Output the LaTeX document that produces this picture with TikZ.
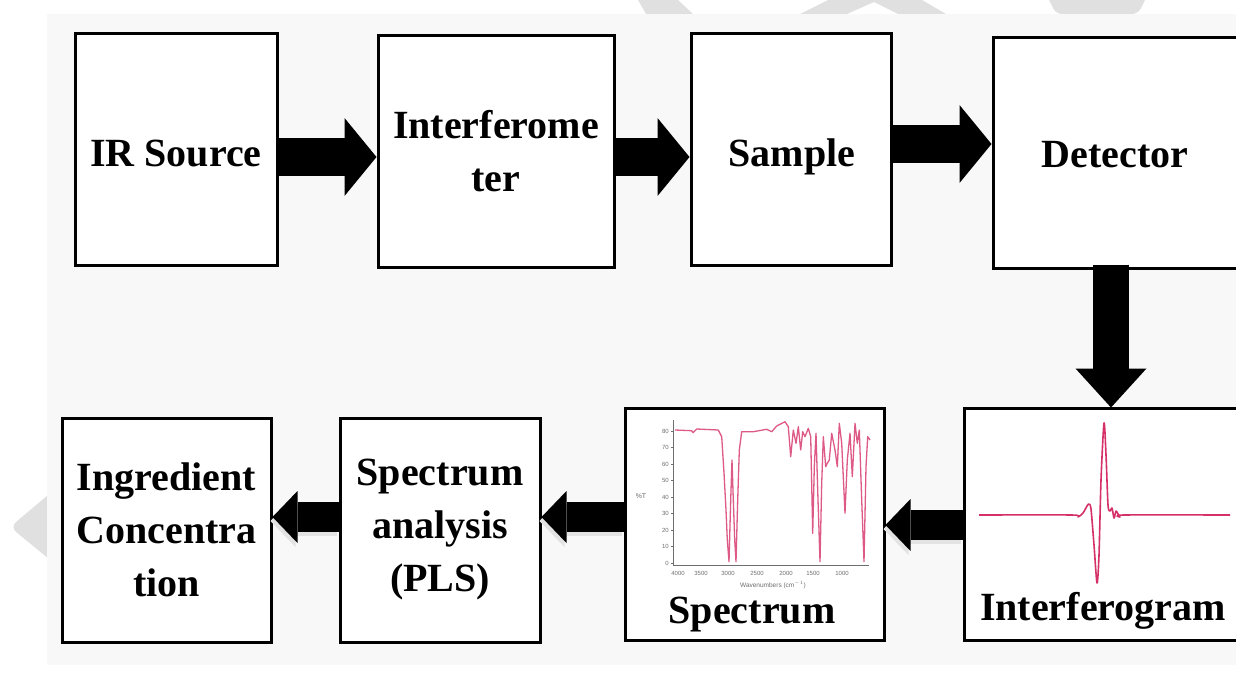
\documentclass[tikz,border=0pt]{standalone}
\usepackage{fontspec}
\setmainfont{Liberation Serif}
\newfontfamily\plotfont{Liberation Sans}
\usetikzlibrary{arrows.meta}
\definecolor{bgc}{RGB}{248,248,248}
\definecolor{wm}{RGB}{224,224,224}
\definecolor{curve}{RGB}{214,48,104}
\definecolor{axisc}{RGB}{110,110,110}
\begin{document}
\begin{tikzpicture}[x=1pt,y=-1pt,
  box/.style={draw, line width=3pt, fill=white, inner sep=0pt, align=center,
    font=\fontsize{40}{53}\selectfont\bfseries},
  lbl/.style={font=\fontsize{40}{53}\selectfont\bfseries, inner sep=0pt},
  bigR/.style={line width=38pt, -{Triangle[length=32pt,width=78pt,line width=0pt]}},
  bigD/.style={line width=36pt, -{Triangle[length=39pt,width=71pt,line width=0pt]}},
  smL/.style={line width=30pt, -{Triangle[length=25pt,width=52pt,line width=0pt]}},
  smS/.style={smL, draw=gray!22, transform canvas={xshift=-2pt,yshift=-4pt}},
  tick/.style={font=\plotfont\fontsize{6}{6}\selectfont, text=axisc, inner sep=0pt}
]
\useasboundingbox (0,0) rectangle (1236,675);
\clip (0,0) rectangle (1236,675);
% faint watermark shapes
\fill[wm] (638,0) -- (678,0) -- (693,14) -- (646,14) -- cycle;
\fill[wm] (800,14) -- (828,0) -- (922,0) -- (946,14) -- (898,14) -- (874,2) -- (847,14) -- cycle;
\fill[wm, rounded corners=6pt] (1044,-10) -- (1150,-10) -- (1138,14) -- (1056,14) -- cycle;
\fill[wm, rounded corners=8pt] (60,485) -- (10,527) -- (60,568) -- cycle;
% background panel
\fill[bgc] (47,14) rectangle (1236,665);

% top row
\node[box, minimum width=202pt, minimum height=232pt] (ir) at (176,149) {};
\node[lbl, anchor=base] (irl) at (176,166) {IR Source};
\node[box, minimum width=236pt, minimum height=232pt] (intf) at (496,151) {Interferome\\ter};
\node[box, minimum width=200pt, minimum height=232pt] (samp) at (791,149) {};
\node[lbl, anchor=base] (sampl) at (792,166) {Sample};
\node[box, minimum width=257pt, minimum height=231pt] (det) at (1121.5,152.5) {};
\node[lbl, anchor=base] (detl) at (1115,167) {Detector};

% bottom row
\node[box, minimum width=209pt, minimum height=224pt] (ingr) at (166.5,530) {Ingredient\\Concentra\\tion};
\node[box, minimum width=200pt, minimum height=224pt] (anal) at (440,530) {Spectrum\\analysis\\(PLS)};
\node[box, minimum width=259pt, minimum height=232pt] (spec) at (754.5,524) {};
\node[box, minimum width=286pt, minimum height=232pt] (ifg) at (1107,524) {};
\node[lbl, anchor=base] (specl) at (752,623) {Spectrum};
\node[lbl, anchor=base] (ifgl) at (1103,620) {Interferogram};

% interferogram trace
\draw[curve, line width=1.6pt, line join=round] plot[smooth, tension=0.45] coordinates {
  (979,515) (1072,515) (1078,517) (1083,513) (1087,506) (1089,504) (1091,509)
  (1094,545) (1097,583) (1099,555) (1101,480) (1104,423) (1106,455) (1108,505)
  (1110,511) (1112,508) (1114,518) (1116,511) (1118,514) (1120,517) (1124,515) (1230,515)};

% spectrum plot
\draw[axisc, line width=0.6pt] (673,420) -- (673,565) -- (869,565);
\foreach \v [count=\i from 0] in {80,70,60,50,40,30,20,10,0} {
  \draw[axisc, line width=0.4pt] (671,431+16.5*\i) -- (673,431+16.5*\i);
  \node[tick, anchor=east] (yt\v) at (669,431+16.5*\i) {\v};
}
\foreach \v/\xx in {4000/678,3500/701,3000/728,2500/757,2000/786,1500/813,1000/842} {
  \node[tick] (xt\v) at (\xx,573) {\v};
}
\node[tick, font=\plotfont\fontsize{7}{7}\selectfont] (ylab) at (641,496) {\%T};
\node[tick, font=\plotfont\fontsize{6.5}{6.5}\selectfont] (xlab) at (773,585) {Wavenumbers (cm$^{-1}$)};
\draw[curve!80, line width=1.3pt, line join=round] plot coordinates {
 (675,430) (691.7,430.7) (693,432.7) (696.7,429) (718.3,430) (721.7,436.7) (724,473)
 (726,510) (727.3,540) (729,561.7) (730.7,500) (732,460) (733.3,500) (734.7,540)
 (736,561.7) (737.7,500) (739.3,450) (741.7,431.7) (753.3,431.7) (766.7,429.3)
 (771.7,431.7) (776.7,426) (785,421.7) (788.3,426.7) (790.7,456.7) (793.3,430)
 (796,443.3) (798.3,426.7) (800.7,450) (802.7,431.7) (805,436.7) (808.3,428.3)
 (810.7,436.7) (812.7,533.3) (814.3,466.7) (816,433.3) (818,500) (820,561.7)
 (821.7,483.3) (823.3,436.7) (825.7,466.7) (827.3,463.3) (829.3,460) (831.7,433.3)
 (835,450) (837.3,466.7) (839.3,423.3) (841.7,443.3) (845,513.3) (847.3,460)
 (850,433.3) (852.3,476.7) (855,423.3) (857.3,443.3) (859.3,430) (861.7,500)
 (864,561.7) (866,466.7) (867.7,436.7) (870,440)};

% top arrows
\draw[bigR] ([yshift=-8pt]ir.east) -- ([yshift=-6pt]intf.west);
\draw[bigR] ([yshift=-6pt]intf.east) -- ([yshift=-8pt]samp.west);
\draw[bigR] ([yshift=5pt]samp.east) -- ([yshift=8.5pt]det.west);
% down arrow
\draw[bigD] ([xshift=-10.5pt,yshift=5pt]det.south) -- ([xshift=4pt,yshift=-1pt]ifg.north);
% bottom arrows (with light shadow)
\draw[smS] ([yshift=-1pt]ifg.west) -- ([yshift=-1pt]spec.east);
\draw[smS] ([yshift=7pt]spec.west) -- ([yshift=13pt]anal.east);
\draw[smS] ([yshift=13pt]anal.west) -- ([yshift=13pt]ingr.east);
\draw[smL] ([yshift=-1pt]ifg.west) -- ([yshift=-1pt]spec.east);
\draw[smL] ([yshift=7pt]spec.west) -- ([yshift=13pt]anal.east);
\draw[smL] ([yshift=13pt]anal.west) -- ([yshift=13pt]ingr.east);
\end{tikzpicture}
\end{document}
